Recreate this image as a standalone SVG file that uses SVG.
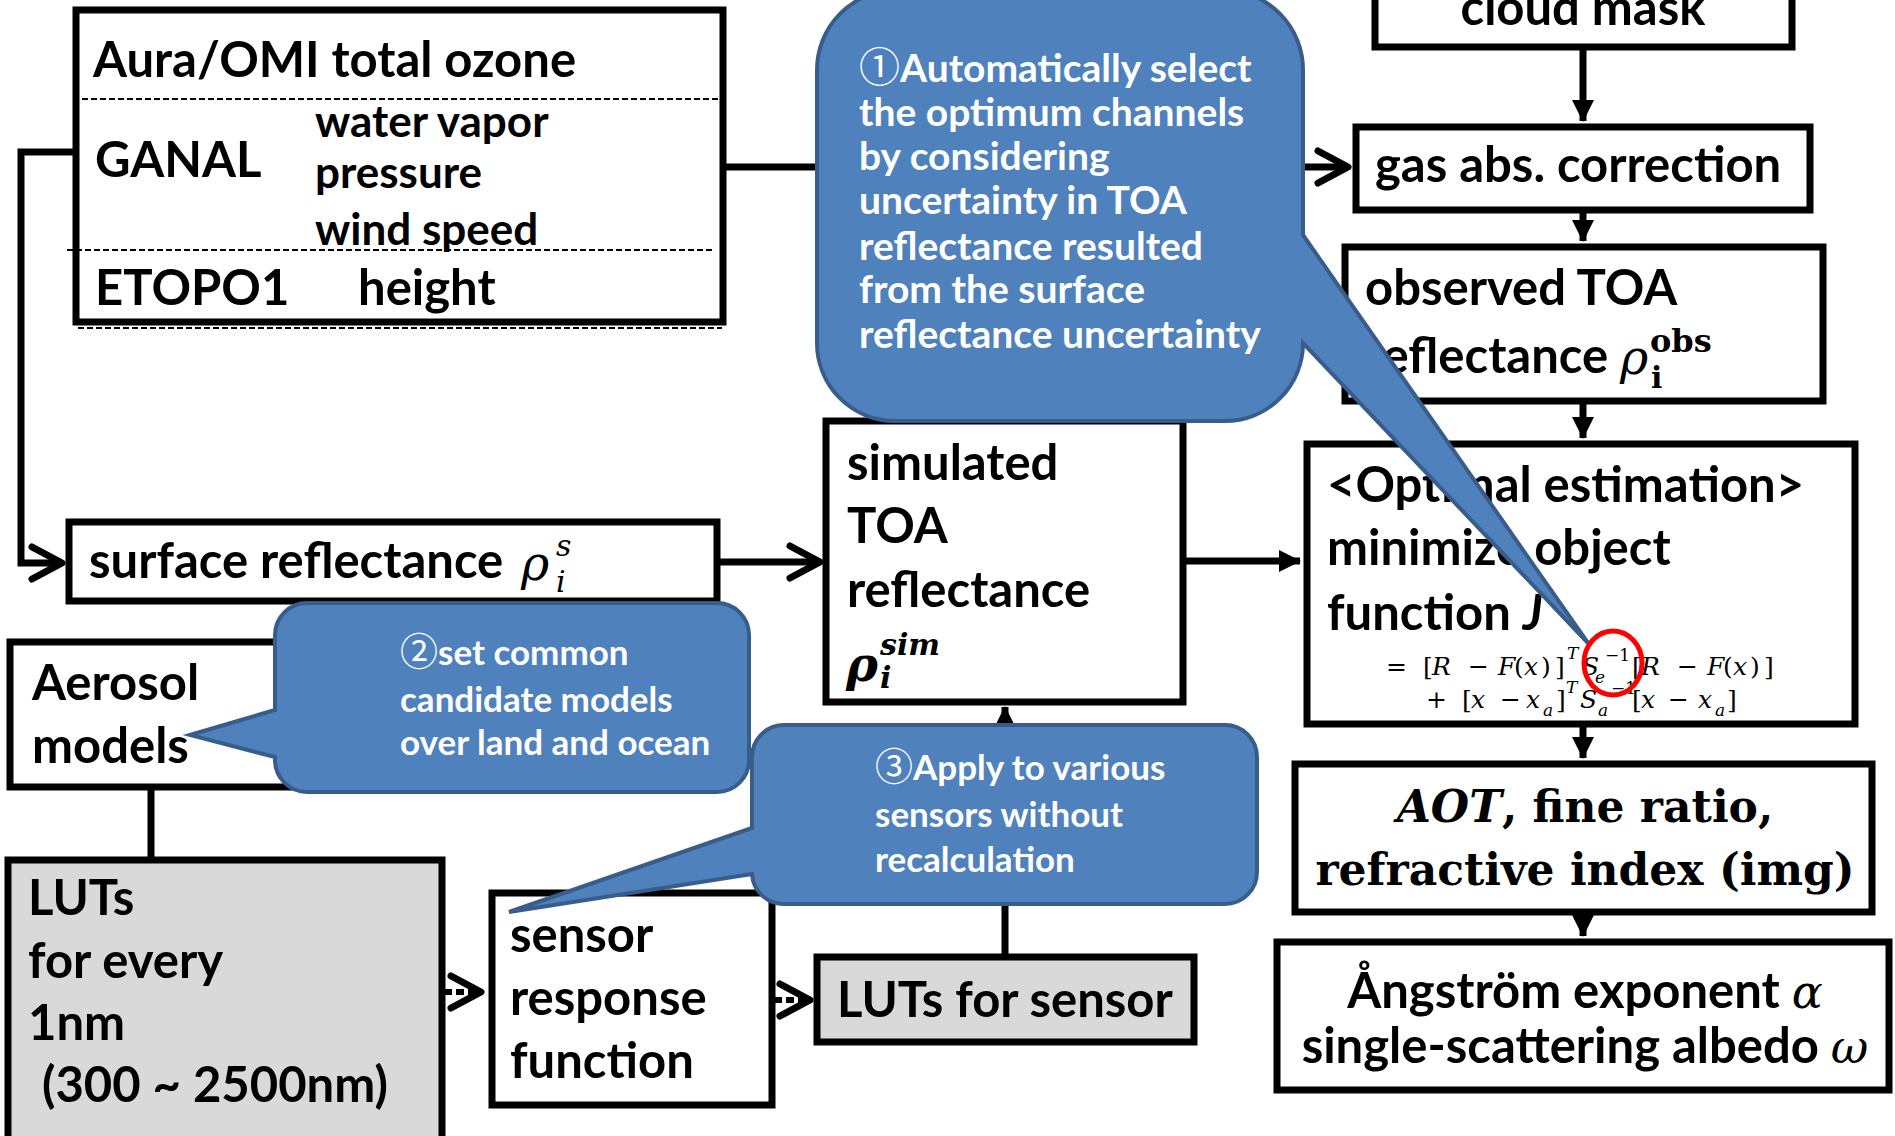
<svg xmlns="http://www.w3.org/2000/svg" width="1895" height="1136" viewBox="0 0 1895 1136">
  <defs>
    <style>
      .box { fill: #fff; stroke: #000; stroke-width: 7; }
      .lut { fill: #d9d9d9; stroke: #000; stroke-width: 7; }
      .t { font-family: Lato, "Liberation Sans", sans-serif; font-weight: bold; font-size: 49px; fill: #000; }
      .ts { font-size: 44px; }
      .c { font-family: Lato, "Noto Sans CJK JP", sans-serif; font-weight: bold; fill: #fff; }
      .c1 { font-size: 39px; }
      .c2 { font-size: 35px; }
      .num { font-family: "Noto Sans CJK JP", sans-serif; font-weight: normal; }
      .m { font-family: "DejaVu Serif", "Liberation Serif", serif; fill: #000; }
      .it { font-style: italic; }
      .eq { font-family: "DejaVu Serif", "Liberation Serif", serif; font-size: 25px; fill: #000; }
      .eqs { font-size: 17px; }
      .sep { stroke: #000; stroke-width: 2; stroke-dasharray: 6 3; fill: none; }
      .ln { stroke: #000; stroke-width: 7; fill: none; }
      .dash { stroke: #000; stroke-width: 6; stroke-dasharray: 8 4; fill: none; }
      .callout { fill: #4f81bd; stroke: #385d8a; stroke-width: 4; }
    </style>
    <marker id="tri" viewBox="-22 -12 24 24" refX="0" refY="0" markerWidth="24" markerHeight="24" markerUnits="userSpaceOnUse" orient="auto">
      <path d="M -21 -11 L 1 0 L -21 11 Z" fill="#000"/>
    </marker>
    <marker id="chev" viewBox="-36 -22 42 44" refX="0" refY="0" markerWidth="42" markerHeight="44" markerUnits="userSpaceOnUse" orient="auto">
      <path d="M -30 -16 L 0 0 L -30 16" fill="none" stroke="#000" stroke-width="7" stroke-linecap="round" stroke-linejoin="round"/>
    </marker>
  </defs>

  <rect width="1895" height="1136" fill="#fff"/>

  <!-- connectors -->
  <g id="connectors">
    <path class="ln" d="M 76 152 H 21 V 563 H 62" marker-end="url(#chev)"/>
    <path class="ln" d="M 723 167 H 1348" marker-end="url(#chev)"/>
    <path class="ln" d="M 717 562 H 820" marker-end="url(#chev)"/>
    <path class="ln" d="M 1583 47 V 121" marker-end="url(#tri)"/>
    <path class="ln" d="M 1583 210 V 241" marker-end="url(#tri)"/>
    <path class="ln" d="M 1583 401 V 438" marker-end="url(#tri)"/>
    <path class="ln" d="M 1583 724 V 758" marker-end="url(#tri)"/>
    <path class="ln" d="M 1583 912 V 936" marker-end="url(#tri)"/>
    <path class="ln" d="M 1183 561 H 1300" marker-end="url(#tri)"/>
    <path class="ln" d="M 1005 957 V 707" marker-end="url(#tri)"/>
    <path class="ln" d="M 151 787 V 860"/>
    <path class="dash" d="M 444 992 H 481" marker-end="url(#chev)"/>
    <path class="dash" d="M 774 1000 H 810" marker-end="url(#chev)"/>
  </g>

  <!-- ancillary data inputs -->
  <g id="ancillary">
    <rect class="box" x="76" y="10" width="647" height="312"/>
    <line class="sep" x1="73" y1="99" x2="718" y2="99"/>
    <line class="sep" x1="67" y1="250" x2="712" y2="250"/>
    <line class="sep" x1="78" y1="328" x2="722" y2="328"/>
    <text class="t" x="93" y="77">Aura/OMI total ozone</text>
    <text class="t" x="95" y="177">GANAL</text>
    <text class="t ts" x="315" y="137">water vapor</text>
    <text class="t ts" x="315" y="188">pressure</text>
    <text class="t ts" x="315" y="245">wind speed</text>
    <text class="t" x="95" y="305">ETOPO1</text>
    <text class="t" x="358" y="305">height</text>
  </g>

  <g id="cloud-mask">
    <rect class="box" x="1375" y="-30" width="417" height="77"/>
    <text class="t" x="1583" y="25" text-anchor="middle">cloud mask</text>
  </g>

  <g id="gas-abs">
    <rect class="box" x="1356" y="127" width="454" height="83"/>
    <text class="t" x="1375" y="182">gas abs. correction</text>
  </g>

  <g id="observed-toa">
    <rect class="box" x="1345" y="247" width="478" height="154"/>
    <text class="t" x="1365" y="305">observed TOA</text>
    <text class="t" x="1365" y="373">reflectance</text>
    <text class="m it" x="1620" y="374" font-size="48">ρ</text>
    <text class="m" x="1650" y="352" font-size="32" font-weight="bold">obs</text>
    <text class="m" x="1651" y="388" font-size="30" font-weight="bold">i</text>
  </g>

  <g id="optimal-estimation">
    <rect class="box" x="1307" y="444" width="548" height="280"/>
    <text class="t" x="1327" y="502">&lt;Optimal estimation&gt;</text>
    <text class="t" x="1327" y="565">minimize object</text>
    <text class="t" x="1327" y="630">function <tspan font-style="italic">J</tspan></text>
    <g class="eq it">
      <text x="1386" y="675" font-style="normal">=</text>
      <text x="1423" y="675" font-style="normal">[</text>
      <text x="1432" y="675">R</text>
      <text x="1468" y="675" font-style="normal">−</text>
      <text x="1498" y="675">F</text>
      <text x="1514" y="675" font-style="normal">(</text>
      <text x="1524" y="675">x</text>
      <text x="1541" y="675" font-style="normal">)</text>
      <text x="1555" y="675" font-style="normal">]</text>
      <text class="eqs" x="1567" y="659">T</text>
      <text x="1582" y="675">S</text>
      <text class="eqs" x="1595" y="683">e</text>
      <text class="eqs" x="1605" y="661" font-style="normal">−1</text>
      <text x="1632" y="675" font-style="normal">[</text>
      <text x="1641" y="675">R</text>
      <text x="1677" y="675" font-style="normal">−</text>
      <text x="1707" y="675">F</text>
      <text x="1723" y="675" font-style="normal">(</text>
      <text x="1733" y="675">x</text>
      <text x="1750" y="675" font-style="normal">)</text>
      <text x="1764" y="675" font-style="normal">]</text>

      <text x="1426" y="708" font-style="normal">+</text>
      <text x="1462" y="708" font-style="normal">[</text>
      <text x="1471" y="708">x</text>
      <text x="1500" y="708" font-style="normal">−</text>
      <text x="1526" y="708">x</text>
      <text class="eqs" x="1543" y="716">a</text>
      <text x="1556" y="708" font-style="normal">]</text>
      <text class="eqs" x="1566" y="693">T</text>
      <text x="1580" y="708">S</text>
      <text class="eqs" x="1598" y="716">a</text>
      <text class="eqs" x="1611" y="694" font-style="normal">−1</text>
      <text x="1632" y="708" font-style="normal">[</text>
      <text x="1641" y="708">x</text>
      <text x="1668" y="708" font-style="normal">−</text>
      <text x="1698" y="708">x</text>
      <text class="eqs" x="1715" y="716">a</text>
      <text x="1727" y="708" font-style="normal">]</text>
    </g>
  </g>

  <g id="aot">
    <rect class="box" x="1295" y="764" width="577" height="148"/>
    <text class="m" x="1585" y="822" font-size="44" font-weight="bold" text-anchor="middle"><tspan font-style="italic">AOT</tspan>, fine ratio,</text>
    <text class="m" x="1585" y="885" font-size="44" font-weight="bold" text-anchor="middle">refractive index (img)</text>
  </g>

  <g id="angstrom">
    <rect class="box" x="1277" y="942" width="612" height="148"/>
    <text class="t" x="1585" y="1008" text-anchor="middle" font-size="50">Ångström exponent <tspan class="m it" font-weight="normal" font-size="46">α</tspan></text>
    <text class="t" x="1585" y="1063" text-anchor="middle" font-size="50">single-scattering albedo <tspan class="m it" font-weight="normal" font-size="46">ω</tspan></text>
  </g>

  <g id="surface-reflectance">
    <rect class="box" x="69" y="522" width="648" height="79"/>
    <text class="t" x="89" y="578">surface reflectance</text>
    <text class="m it" x="521" y="580" font-size="48">ρ</text>
    <text class="m it" x="556" y="556" font-size="30">s</text>
    <text class="m it" x="556" y="592" font-size="30">i</text>
  </g>

  <g id="simulated-toa">
    <rect class="box" x="826" y="421" width="357" height="281"/>
    <text class="t" x="847" y="480">simulated</text>
    <text class="t" x="847" y="543">TOA</text>
    <text class="t" x="847" y="607">reflectance</text>
    <text class="m it" x="846" y="681" font-size="48" font-weight="bold">ρ</text>
    <text class="m it" x="880" y="655" font-size="30" font-weight="bold">sim</text>
    <text class="m it" x="880" y="688" font-size="30" font-weight="bold">i</text>
  </g>

  <g id="aerosol-models">
    <rect class="box" x="10" y="642" width="285" height="145"/>
    <text class="t" x="32" y="700">Aerosol</text>
    <text class="t" x="32" y="763">models</text>
  </g>

  <g id="luts-1nm">
    <rect class="lut" x="8" y="860" width="434" height="300"/>
    <text class="t" x="28" y="915">LUTs</text>
    <text class="t" x="28" y="978">for every</text>
    <text class="t" x="28" y="1040">1nm</text>
    <text class="t" x="42" y="1102">(300 ~ 2500nm)</text>
  </g>

  <g id="sensor-response">
    <rect class="box" x="492" y="893" width="280" height="212"/>
    <text class="t" x="510" y="952">sensor</text>
    <text class="t" x="510" y="1015">response</text>
    <text class="t" x="510" y="1078">function</text>
  </g>

  <g id="luts-sensor">
    <rect class="lut" x="817" y="957" width="377" height="85"/>
    <text class="t" x="837" y="1017">LUTs for sensor</text>
  </g>

  <!-- annotation callouts -->
  <g id="callout-channels">
    <path class="callout" d="M 897 -10 H 1223 A 80 80 0 0 1 1303 70 V 235 L 1588 643 L 1303 343 A 78 78 0 0 1 1225 421 H 895 A 78 78 0 0 1 817 343 V 70 A 80 80 0 0 1 897 -10 Z"/>
    <text class="c c1" x="859" y="82"><tspan class="num" font-size="41">①</tspan>Automatically select</text>
    <text class="c c1" x="859" y="126">the optimum channels</text>
    <text class="c c1" x="859" y="170">by considering</text>
    <text class="c c1" x="859" y="214">uncertainty in TOA</text>
    <text class="c c1" x="859" y="260">reflectance resulted</text>
    <text class="c c1" x="859" y="303">from the surface</text>
    <text class="c c1" x="859" y="348">reflectance uncertainty</text>
  </g>

  <g id="callout-models">
    <path class="callout" d="M 307 603 H 717 A 32 32 0 0 1 749 635 V 760 A 32 32 0 0 1 717 792 H 307 A 32 32 0 0 1 275 760 V 757 L 190 735 L 275 710 V 635 A 32 32 0 0 1 307 603 Z"/>
    <text class="c c2" x="400" y="665"><tspan class="num" font-size="38">②</tspan>set common</text>
    <text class="c c2" x="400" y="712">candidate models</text>
    <text class="c c2" x="400" y="755">over land and ocean</text>
  </g>

  <g id="callout-sensors">
    <path class="callout" d="M 784 725 H 1225 A 32 32 0 0 1 1257 757 V 872 A 32 32 0 0 1 1225 904 H 784 A 32 32 0 0 1 752 874 L 509 912 L 752 828 V 757 A 32 32 0 0 1 784 725 Z"/>
    <text class="c c2" x="875" y="780"><tspan class="num" font-size="38">③</tspan>Apply to various</text>
    <text class="c c2" x="875" y="827">sensors without</text>
    <text class="c c2" x="875" y="872">recalculation</text>
  </g>

  <ellipse id="highlight" cx="1613" cy="663" rx="29" ry="32" fill="none" stroke="#ff0000" stroke-width="5"/>
</svg>
